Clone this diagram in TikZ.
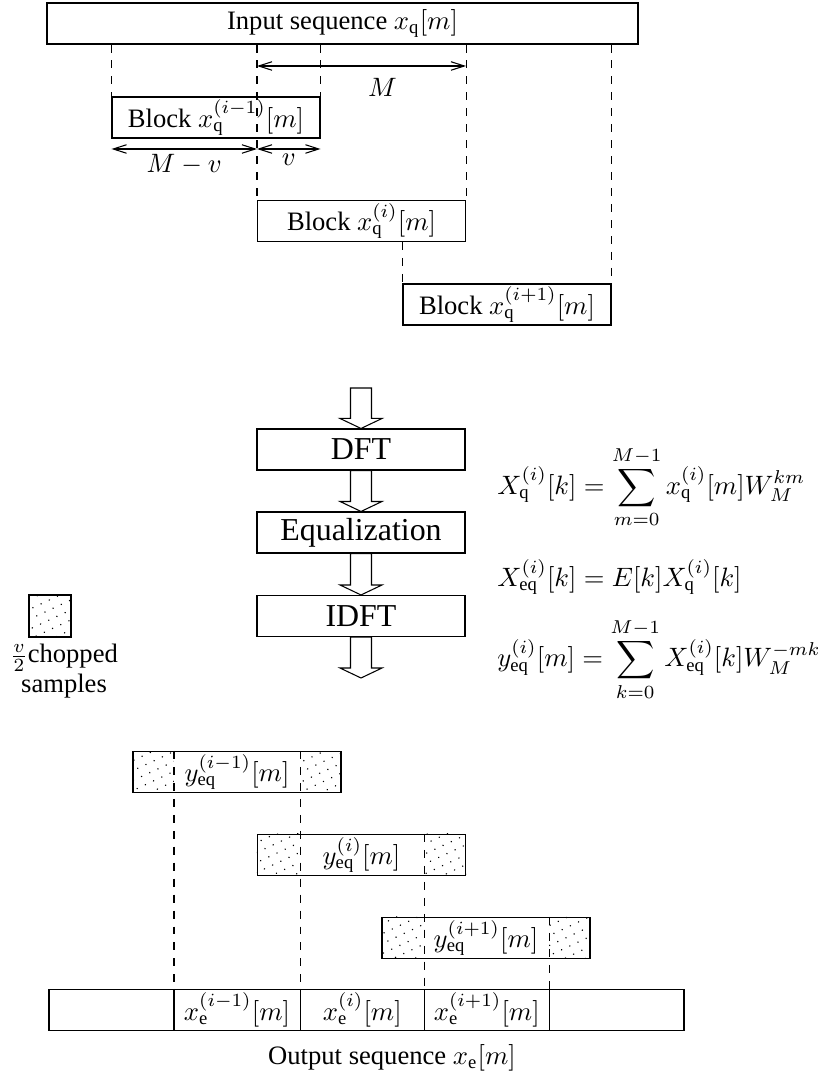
\documentclass[tikz,border=0pt]{standalone}
\usepackage{fontspec}
\setmainfont{Liberation Serif}
\usetikzlibrary{calc,arrows.meta,patterns.meta}

% hollow block arrow from #1 down to #2
\newcommand{\hollowarrow}[2]{%
\draw ($(#1)+(-10.5,0)$) -- ($(#2)+(-10.5,-10)$) -- ($(#2)+(-21,-10)$) -- (#2)
  -- ($(#2)+(21,-10)$) -- ($(#2)+(10.5,-10)$) -- ($(#1)+(10.5,0)$) -- cycle;}

\begin{document}
\begin{tikzpicture}[x=0.376pt,y=-0.376pt,>={Straight Barb[length=5pt,width=3.2pt]},seq/.style={draw,inner sep=0pt,minimum height=41*\pu},blk/.style={seq,minimum width=208*\pu},stage/.style={blk,font=\large},chop/.style={pattern={Dots[distance=3.4pt,radius=0.3pt,angle=25]}}]
\def\pu{0.376pt}
\def\cw{41.5}
\useasboundingbox (0,0) rectangle (822,1072);

% input side
\node[seq,minimum width=591*\pu] (inp) at (342.5,23.5) {Input sequence $x_\mathrm{q}[m]$};
\node[blk] (bq1) at (216,117.5) {Block $x_\mathrm{q}^{(i-1)}[m]$};
\node[blk] (bq2) at (361.5,221) {Block $x_\mathrm{q}^{(i)}[m]$};
\node[blk] (bq3) at (507,304.5) {Block $x_\mathrm{q}^{(i+1)}[m]$};

\draw[dashed] (inp.south -| bq1.west) -- (bq1.north west);
\draw[dashed] (inp.south -| bq1.east) -- (bq1.north east);
\draw[dashed] (inp.south -| bq2.west) -- (bq2.north west);
\draw[dashed] (inp.south -| bq2.east) -- (bq2.north east);
\draw[dashed] (inp.south -| bq3.east) -- (bq3.north east);
\draw[dashed] (bq2.south -| bq3.west) -- (bq3.north west);

\coordinate (mL) at (bq2.west |- 0,66);
\coordinate (mR) at (bq2.east |- 0,66);
\draw[<->] (mL) -- (mR) node[pos=0.6,below=1pt] {$M$};
\coordinate (vL) at (bq1.west |- 0,149);
\coordinate (vM) at (bq2.west |- 0,149);
\coordinate (vR) at (bq1.east |- 0,149);
\draw[<->] (vL) -- (vM) node[midway,below=-1.5pt] {$M-v$};
\draw[<->] (vM) -- (vR) node[midway,below=-1.5pt] {$v$};

% processing chain
\coordinate (in) at (361,388);
\node[stage] (dft) at (361,449.5) {DFT};
\node[stage] (eqz) at (361,532.5) {Equalization};
\node[stage] (idft) at (361,616) {IDFT};
\coordinate (out) at (361,678);
\hollowarrow{in}{dft.north}
\hollowarrow{dft.south}{eqz.north}
\hollowarrow{eqz.south}{idft.north}
\hollowarrow{idft.south}{out}

\node[anchor=west] (eq1) at (488,487) {$\displaystyle X_\mathrm{q}^{(i)}[k]=\sum_{m=0}^{M-1}x_\mathrm{q}^{(i)}[m]W_M^{km}$};
\node[anchor=west] (eq2) at (488,577) {$X_\mathrm{eq}^{(i)}[k]=E[k]X_\mathrm{q}^{(i)}[k]$};
\node[anchor=west] (eq3) at (488,660) {$\displaystyle y_\mathrm{eq}^{(i)}[m]=\sum_{k=0}^{M-1}X_\mathrm{eq}^{(i)}[k]W_M^{-mk}$};

% legend
\node[draw,chop,inner sep=0pt,minimum width=42*\pu,minimum height=42*\pu] (leg) at (50,616) {};
\node[align=center] (legtxt) at (64,671) {$\frac{v}{2}$chopped\\[-1pt]samples};

% output side
\node[blk] (ye1) at (237,772) {$y_\mathrm{eq}^{(i-1)}[m]$};
\node[blk] (ye2) at (361.5,855) {$y_\mathrm{eq}^{(i)}[m]$};
\node[blk] (ye3) at (486,938) {$y_\mathrm{eq}^{(i+1)}[m]$};
\fill[chop] (ye1.north west) rectangle ++(\cw,41);
\fill[chop] (ye1.north east) rectangle ++(-\cw,41);
\fill[chop] (ye2.north west) rectangle ++(\cw,41);
\fill[chop] (ye2.north east) rectangle ++(-\cw,41);
\fill[chop] (ye3.north west) rectangle ++(\cw,41);
\fill[chop] (ye3.north east) rectangle ++(-\cw,41);

\node[seq,minimum width=635*\pu] (oseq) at (366.5,1010) {};
\coordinate (d1) at ($(ye1.north west)+(\cw,0)$);
\coordinate (d2) at ($(ye1.north east)+(-\cw,0)$);
\coordinate (d3) at ($(ye2.north east)+(-\cw,0)$);
\coordinate (d4) at ($(ye3.north east)+(-\cw,0)$);
\foreach \d in {d1,d2,d3,d4}{
  \draw[dashed] (\d) -- (\d |- oseq.north);
  \draw (\d |- oseq.north) -- (\d |- oseq.south);
}
\node (xe1) at ($(d1 |- oseq.center)!0.5!(d2 |- oseq.center)$) {$x_\mathrm{e}^{(i-1)}[m]$};
\node (xe2) at ($(d2 |- oseq.center)!0.5!(d3 |- oseq.center)$) {$x_\mathrm{e}^{(i)}[m]$};
\node (xe3) at ($(d3 |- oseq.center)!0.5!(d4 |- oseq.center)$) {$x_\mathrm{e}^{(i+1)}[m]$};
\node (olab) at (392,1058) {Output sequence $x_\mathrm{e}[m]$};
\end{tikzpicture}
\end{document}
